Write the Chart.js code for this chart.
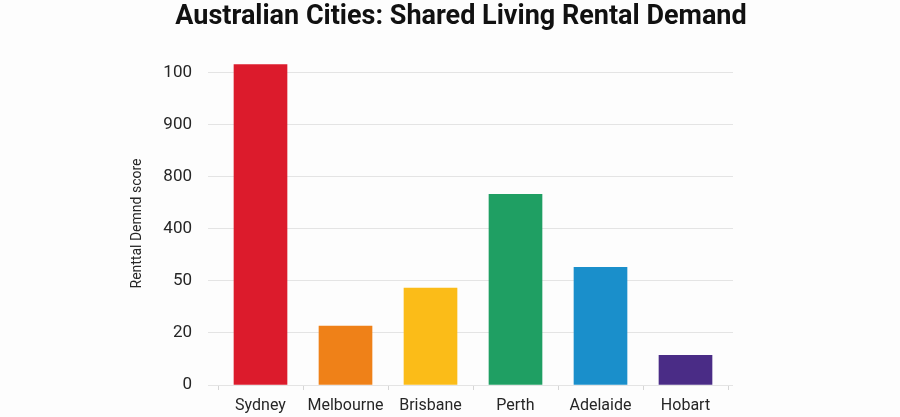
<!DOCTYPE html>
<html>
<head>
<meta charset="utf-8">
<title>Australian Cities: Shared Living Rental Demand</title>
<script src="https://cdn.jsdelivr.net/npm/chart.js@4.4.1/dist/chart.umd.min.js"></script>
<style>
  html, body { margin: 0; padding: 0; background: #fdfdfd; }
  #wrap { width: 900px; height: 417px; }
</style>
</head>
<body>
<div id="wrap"><canvas id="demandChart"></canvas></div>
<script>
const cities = ["Sydney", "Melbourne", "Brisbane", "Perth", "Adelaide", "Hobart"];
const demandScores = [615, 113, 186, 366, 226, 57];
const barColors = ["#dc1b2c", "#ef8118", "#fbbc18", "#1f9f63", "#1a8fcb", "#4a2c86"];
// tick labels as printed on the picture, one per grid step
const yTickLabels = ["0", "20", "50", "400", "800", "900", "100"];

const gridColor = "#e4e4e4";
const textColor = "#262626";

function keepSteps(scale) {
  scale.ticks = scale.ticks.filter(t => t.value % 100 === 0);
}

new Chart(document.getElementById("demandChart"), {
  type: "bar",
  data: {
    labels: cities,
    datasets: [
      {
        label: "Rental demand score",
        data: demandScores,
        backgroundColor: barColors,
        borderWidth: 0,
        barThickness: 53
      }
    ]
  },
  options: {
    responsive: true,
    maintainAspectRatio: false,
    animation: false,
    layout: {
      padding: { left: 126, right: 104, top: 0, bottom: 0 }
    },
    plugins: {
      legend: { display: false },
      tooltip: { enabled: false },
      title: {
        display: true,
        text: "Australian Cities: Shared Living Rental Demand",
        color: "#111",
        font: { family: "Roboto", size: 27, weight: "bold" },
        padding: { top: 1, bottom: 28.6 }
      }
    },
    scales: {
      x: {
        grid: {
          drawOnChartArea: false,
          offset: true,
          tickLength: 5,
          color: "#d6d6d6"
        },
        border: { display: false },
        ticks: {
          color: textColor,
          padding: 6,
          font: { family: "Roboto", size: 16 }
        },
        afterFit(scale) {
          scale.height = 32;
        }
      },
      y: {
        min: 0,
        max: 620,
        grid: {
          color: gridColor,
          tickLength: 10
        },
        border: { display: false },
        ticks: {
          stepSize: 100,
          includeBounds: false,
          padding: 16,
          color: textColor,
          font: { family: "Roboto", size: 17 },
          callback: (value, index) => yTickLabels[index]
        },
        afterBuildTicks: keepSteps,
        title: {
          display: true,
          text: "Renttal Demnd score",
          color: textColor,
          font: { family: "Roboto", size: 14 },
          padding: { top: 3, bottom: 0 }
        },
        afterFit(scale) {
          scale.width = 92;
        }
      },
      y2: {
        position: "right",
        min: 0,
        max: 620,
        grid: {
          drawOnChartArea: false,
          color: gridColor,
          tickLength: 5
        },
        border: { display: false },
        ticks: {
          stepSize: 100,
          includeBounds: false,
          display: false
        },
        afterBuildTicks: keepSteps,
        afterFit(scale) {
          scale.width = 68;
        }
      }
    }
  }
});
</script>
</body>
</html>
